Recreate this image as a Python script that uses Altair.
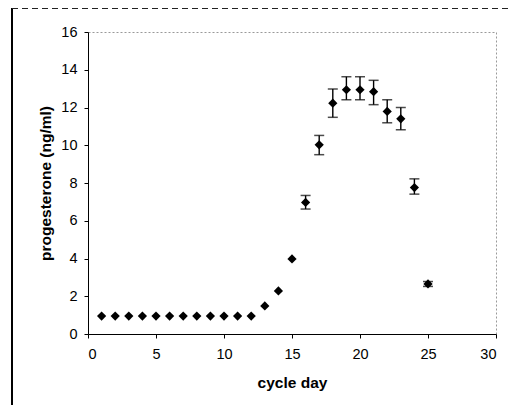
import altair as alt
import pandas as pd

days = list(range(1, 26))
progesterone = [0.95, 0.95, 0.95, 0.95, 0.95, 0.95, 0.95, 0.95, 0.95, 0.95, 0.95, 0.95,
                1.49, 2.28, 3.98, 6.97, 10.02, 12.23, 12.94, 12.94, 12.84, 11.79, 11.40, 7.76, 2.65]
err_days = [16, 17, 18, 19, 20, 21, 22, 23, 24, 25]
err_low = [6.62, 9.50, 11.48, 12.41, 12.41, 12.15, 11.19, 10.82, 7.41, 2.52]
err_high = [7.34, 10.52, 12.98, 13.63, 13.63, 13.44, 12.41, 12.00, 8.22, 2.78]
x_ticks = [0, 5, 10, 15, 20, 25, 30]
y_ticks = [0, 2, 4, 6, 8, 10, 12, 14, 16]

df = pd.DataFrame({"day": days, "p": progesterone})
de = pd.DataFrame({"day": err_days, "lo": err_low, "hi": err_high})

FONT = "Liberation Sans"
common = dict(grid=False, tickSize=4, labelOverlap=False, labelFont=FONT, titleFont=FONT,
              labelFontSize=14.5, titleFontSize=15.5, labelColor="black", titleColor="black",
              domainColor="black", tickColor="black", titleFontWeight="bold")

xs = alt.Scale(domain=[0, 30], nice=False)
ys = alt.Scale(domain=[0, 16], nice=False)

xax = alt.Axis(values=x_ticks, title="cycle day", labelPadding=9, titlePadding=15, **common)
yax = alt.Axis(values=y_ticks, title="progesterone (ng/ml)", labelPadding=7, titlePadding=7, **common)

points = alt.Chart(df).mark_point(shape="diamond", filled=True, color="black", size=85, opacity=1).encode(
    x=alt.X("day:Q", scale=xs, axis=xax),
    y=alt.Y("p:Q", scale=ys, axis=yax),
)

bars = alt.Chart(de).mark_rule(color="black", strokeWidth=1.4).encode(
    x=alt.X("day:Q", scale=xs, axis=xax), y=alt.Y("lo:Q", scale=ys, axis=yax), y2="hi:Q"
)
cap_lo = alt.Chart(de).mark_tick(color="black", orient="horizontal", size=10, thickness=1.5).encode(
    x=alt.X("day:Q", scale=xs, axis=xax), y=alt.Y("lo:Q", scale=ys, axis=yax)
)
cap_hi = alt.Chart(de).mark_tick(color="black", orient="horizontal", size=10, thickness=1.5).encode(
    x=alt.X("day:Q", scale=xs, axis=xax), y=alt.Y("hi:Q", scale=ys, axis=yax)
)

frame_left = alt.Chart(de).mark_rule(color="black", strokeWidth=1.5).encode(
    x=alt.value(-76), y=alt.value(-24), y2=alt.value(385)
)
frame_top = alt.Chart(de).mark_rule(color="#222", strokeWidth=1, strokeDash=[6, 4]).encode(
    x=alt.value(-76), x2=alt.value(425), y=alt.value(-23.5)
)

chart = alt.layer(points, bars, cap_lo, cap_hi, frame_left, frame_top).properties(
    width=408, height=302,
    autosize=alt.AutoSizeParams(type="none"),
    padding={"left": 80, "top": 24, "right": 12, "bottom": 71},
).configure_view(
    stroke="#999", strokeDash=[2, 2], strokeWidth=1
)

chart.save("out.html", embed_options={"renderer": "svg", "actions": False})
